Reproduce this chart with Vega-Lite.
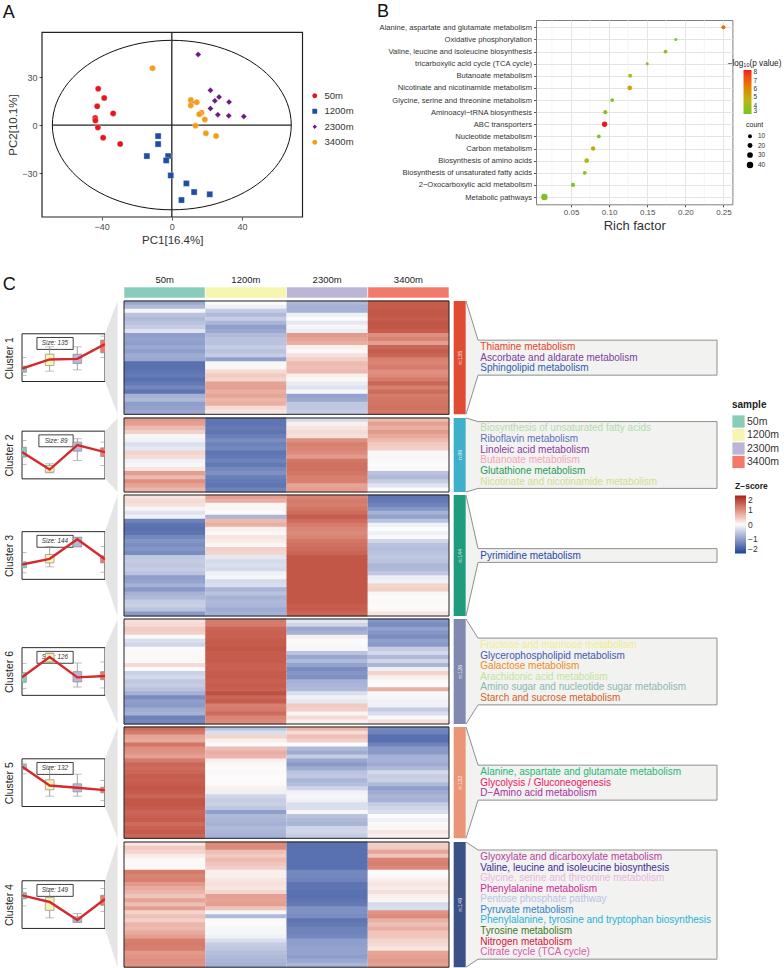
{"$schema":"https://vega.github.io/schema/vega-lite/v6.json","background":"white","padding":{"left":2,"top":2,"right":0,"bottom":0},"spacing":0,"bounds":"full",
"config":{"font":"Liberation Sans","view":{"stroke":null},"axis":{"labelColor":"#4d4d4d","titleColor":"#333333","tickColor":"#555555","titleFontWeight":"normal","grid":false},"legend":{"labelColor":"#333333","titleColor":"#222222"}},
"datasets":{
"pca":[{"s":"50m","x":-41.9,"y":22.7},{"s":"50m","x":-38.5,"y":16.9},{"s":"50m","x":-42.5,"y":11.7},{"s":"50m","x":-33.4,"y":7.3},{"s":"50m","x":-43.6,"y":4.4},{"s":"50m","x":-43.5,"y":2.9},{"s":"50m","x":-42.1,"y":-1.5},{"s":"50m","x":-39.1,"y":-7.9},{"s":"50m","x":-29.4,"y":-11.9},
{"s":"1200m","x":-7.8,"y":-6.9},{"s":"1200m","x":-7.8,"y":-11.9},{"s":"1200m","x":-14.2,"y":-19.4},{"s":"1200m","x":-2.1,"y":-19.4},{"s":"1200m","x":-3.2,"y":-22.1},{"s":"1200m","x":-0.6,"y":-31.5},{"s":"1200m","x":8.3,"y":-36.5},{"s":"1200m","x":12.7,"y":-41.9},{"s":"1200m","x":21.6,"y":-43.3},{"s":"1200m","x":5.5,"y":-46.9},
{"s":"2300m","x":15,"y":44.2},{"s":"2300m","x":22,"y":21.7},{"s":"2300m","x":26.9,"y":17.5},{"s":"2300m","x":24.5,"y":15.2},{"s":"2300m","x":32.6,"y":14.4},{"s":"2300m","x":22,"y":10.4},{"s":"2300m","x":26.2,"y":6.5},{"s":"2300m","x":32.4,"y":5.8},{"s":"2300m","x":41,"y":5.4},{"s":"2300m","x":11.2,"y":14.2},
{"s":"3400m","x":-11,"y":35.6},{"s":"3400m","x":10.8,"y":15.6},{"s":"3400m","x":10.8,"y":12.3},{"s":"3400m","x":14.2,"y":14.2},{"s":"3400m","x":16.9,"y":7.7},{"s":"3400m","x":15.6,"y":6.7},{"s":"3400m","x":18.8,"y":3.5},{"s":"3400m","x":13.5,"y":-0.4},{"s":"3400m","x":19.4,"y":-5.2},{"s":"3400m","x":25.2,"y":-6.9}],
"ellipse":[{"t":0,"x":68,"y":0},{"t":1,"x":65.7,"y":13.7},{"t":2,"x":58.9,"y":26.5},{"t":3,"x":48.1,"y":37.5},{"t":4,"x":34,"y":45.9},{"t":5,"x":17.6,"y":51.2},{"t":6,"x":0,"y":53},{"t":7,"x":-17.6,"y":51.2},{"t":8,"x":-34,"y":45.9},{"t":9,"x":-48.1,"y":37.5},{"t":10,"x":-58.9,"y":26.5},{"t":11,"x":-65.7,"y":13.7},{"t":12,"x":-68,"y":0},{"t":13,"x":-65.7,"y":-13.7},{"t":14,"x":-58.9,"y":-26.5},{"t":15,"x":-48.1,"y":-37.5},{"t":16,"x":-34,"y":-45.9},{"t":17,"x":-17.6,"y":-51.2},{"t":18,"x":0,"y":-53},{"t":19,"x":17.6,"y":-51.2},{"t":20,"x":34,"y":-45.9},{"t":21,"x":48.1,"y":-37.5},{"t":22,"x":58.9,"y":-26.5},{"t":23,"x":65.7,"y":-13.7}],
"kegg":[{"name":"Alanine, aspartate and glutamate metabolism","rf":0.25,"p":6.6,"count":12},{"name":"Oxidative phosphorylation","rf":0.1875,"p":3.1,"count":3},{"name":"Valine, leucine and isoleucine biosynthesis","rf":0.174,"p":3.5,"count":9},{"name":"tricarboxylic acid cycle (TCA cycle)","rf":0.15,"p":3.1,"count":3},{"name":"Butanoate metabolism","rf":0.1275,"p":4.5,"count":12},{"name":"Nicotinate and nicotinamide metabolism","rf":0.127,"p":5.2,"count":18},{"name":"Glycine, serine and threonine metabolism","rf":0.104,"p":3.3,"count":9},{"name":"Aminoacyl−tRNA biosynthesis","rf":0.095,"p":3.3,"count":12},{"name":"ABC transporters","rf":0.094,"p":8.3,"count":25},{"name":"Nucleotide metabolism","rf":0.0865,"p":3.2,"count":9},{"name":"Carbon metabolism","rf":0.079,"p":5.2,"count":15},{"name":"Biosynthesis of amino acids","rf":0.0705,"p":4.5,"count":18},{"name":"Biosynthesis of unsaturated fatty acids","rf":0.068,"p":3.3,"count":9},{"name":"2−Oxocarboxylic acid metabolism","rf":0.0525,"p":3.3,"count":12},{"name":"Metabolic pathways","rf":0.015,"p":3.2,"count":40}],
"mini":[{"c":1,"i":0,"s":"50m","m":-0.91,"q3":-0.71,"q1":-1.22,"hi":0.01,"lo":-1.5},{"c":1,"i":1,"s":"1200m","m":-0.15,"q3":0.29,"q1":-0.66,"hi":0.91,"lo":-1.13},{"c":1,"i":2,"s":"2300m","m":-0.1,"q3":0.29,"q1":-0.49,"hi":0.91,"lo":-1.02},{"c":1,"i":3,"s":"3400m","m":1.13,"q3":1.47,"q1":0.41,"hi":1.8,"lo":0},
{"c":2,"i":0,"s":"50m","m":0.24,"q3":0.66,"q1":-0.18,"hi":1.22,"lo":-0.8},{"c":2,"i":1,"s":"1200m","m":-1.22,"q3":-0.88,"q1":-1.44,"hi":-0.74,"lo":-1.5},{"c":2,"i":2,"s":"2300m","m":0.83,"q3":1.08,"q1":0.32,"hi":1.36,"lo":-0.46},{"c":2,"i":3,"s":"3400m","m":0.24,"q3":0.6,"q1":-0.13,"hi":1.08,"lo":-0.88},
{"c":3,"i":0,"s":"50m","m":-0.76,"q3":-0.53,"q1":-1.03,"hi":0.25,"lo":-1.45},{"c":3,"i":1,"s":"1200m","m":-0.28,"q3":0.08,"q1":-0.62,"hi":0.76,"lo":-0.95},{"c":3,"i":2,"s":"2300m","m":1.37,"q3":1.51,"q1":0.73,"hi":1.54,"lo":0.73},{"c":3,"i":3,"s":"3400m","m":-0.31,"q3":-0.03,"q1":-0.62,"hi":0.76,"lo":-1.4},
{"c":6,"i":0,"s":"50m","m":-0.49,"q3":-0.1,"q1":-0.91,"hi":0.66,"lo":-1.44},{"c":6,"i":1,"s":"1200m","m":1.22,"q3":1.5,"q1":0.8,"hi":1.55,"lo":0.71},{"c":6,"i":2,"s":"2300m","m":-0.49,"q3":-0.01,"q1":-0.88,"hi":0.71,"lo":-1.3},{"c":6,"i":3,"s":"3400m","m":-0.38,"q3":-0.01,"q1":-0.69,"hi":0.8,"lo":-1.38},
{"c":5,"i":0,"s":"50m","m":1.36,"q3":1.52,"q1":1.1,"hi":1.64,"lo":0.74},{"c":5,"i":1,"s":"1200m","m":-0.24,"q3":0.24,"q1":-0.6,"hi":1.3,"lo":-1.13},{"c":5,"i":2,"s":"2300m","m":-0.43,"q3":-0.1,"q1":-0.77,"hi":0.71,"lo":-1.13},{"c":5,"i":3,"s":"3400m","m":-0.63,"q3":-0.38,"q1":-0.85,"hi":0.18,"lo":-1.5},
{"c":4,"i":0,"s":"50m","m":0.78,"q3":1,"q1":0.48,"hi":1.34,"lo":-0.11},{"c":4,"i":1,"s":"1200m","m":0.22,"q3":0.59,"q1":-0.48,"hi":1.34,"lo":-1.12},{"c":4,"i":2,"s":"2300m","m":-1.29,"q3":-1.03,"q1":-1.48,"hi":-0.76,"lo":-1.48},{"c":4,"i":3,"s":"3400m","m":0.48,"q3":0.78,"q1":-0.06,"hi":1.34,"lo":-0.56}],
"heat":[
{"c":1,"r":0,"50m":-0.9,"1200m":0,"2300m":-0.7,"3400m":1.5},{"c":1,"r":1,"50m":-0.7,"1200m":-0.1,"2300m":-0.8,"3400m":1.5},{"c":1,"r":2,"50m":-0.05,"1200m":-0.5,"2300m":-0.8,"3400m":1.55},{"c":1,"r":3,"50m":-0.6,"1200m":-0.7,"2300m":-0.1,"3400m":1.55},{"c":1,"r":4,"50m":-0.7,"1200m":-0.5,"2300m":0,"3400m":1.5},{"c":1,"r":5,"50m":-0.6,"1200m":-0.75,"2300m":-0.2,"3400m":1.55},{"c":1,"r":6,"50m":-0.5,"1200m":-1,"2300m":-0.05,"3400m":1.55},{"c":1,"r":7,"50m":-0.25,"1200m":-0.9,"2300m":-0.15,"3400m":1.5},{"c":1,"r":8,"50m":-1,"1200m":-0.7,"2300m":0.9,"3400m":1},{"c":1,"r":9,"50m":-0.95,"1200m":-0.6,"2300m":0.8,"3400m":1.1},{"c":1,"r":10,"50m":-1,"1200m":-0.6,"2300m":0.7,"3400m":0.85},{"c":1,"r":11,"50m":-0.9,"1200m":-0.5,"2300m":0.1,"3400m":1.4},{"c":1,"r":12,"50m":-1,"1200m":-0.6,"2300m":0.03,"3400m":1.5},{"c":1,"r":13,"50m":-0.85,"1200m":-0.5,"2300m":0.25,"3400m":1.4},{"c":1,"r":14,"50m":-0.9,"1200m":-1,"2300m":0.4,"3400m":1.15},{"c":1,"r":15,"50m":-1.5,"1200m":0.05,"2300m":0.6,"3400m":1.1},{"c":1,"r":16,"50m":-1.5,"1200m":0.05,"2300m":0.55,"3400m":1.2},{"c":1,"r":17,"50m":-1.45,"1200m":0.3,"2300m":0.6,"3400m":1},{"c":1,"r":18,"50m":-1.4,"1200m":0.45,"2300m":0.1,"3400m":1.05},{"c":1,"r":19,"50m":-1.5,"1200m":0.35,"2300m":0.02,"3400m":1.2},{"c":1,"r":20,"50m":-1.4,"1200m":0.8,"2300m":-0.15,"3400m":1.4},{"c":1,"r":21,"50m":-1.25,"1200m":0.85,"2300m":-0.25,"3400m":1.15},{"c":1,"r":22,"50m":-1.45,"1200m":0.7,"2300m":-0.05,"3400m":1.35},{"c":1,"r":23,"50m":-0.8,"1200m":0.8,"2300m":-0.95,"3400m":1.2},{"c":1,"r":24,"50m":-0.7,"1200m":0.65,"2300m":-0.9,"3400m":1.25},{"c":1,"r":25,"50m":-1,"1200m":0.7,"2300m":-0.55,"3400m":1.25},{"c":1,"r":26,"50m":-0.95,"1200m":0.3,"2300m":-0.55,"3400m":1.3},{"c":1,"r":27,"50m":-0.9,"1200m":0.2,"2300m":-0.5,"3400m":1.25},
{"c":2,"r":0,"50m":0.9,"1200m":-1.45,"2300m":-0.35,"3400m":0.6},{"c":2,"r":1,"50m":0.85,"1200m":-1.45,"2300m":0.1,"3400m":0.85},{"c":2,"r":2,"50m":0.6,"1200m":-1.4,"2300m":0.2,"3400m":0.7},{"c":2,"r":3,"50m":0.4,"1200m":-1.45,"2300m":0.3,"3400m":0.9},{"c":2,"r":4,"50m":0.05,"1200m":-1.35,"2300m":0.25,"3400m":0.75},{"c":2,"r":5,"50m":-0.1,"1200m":-1.2,"2300m":1,"3400m":0.6},{"c":2,"r":6,"50m":-0.3,"1200m":-1.3,"2300m":1.15,"3400m":0.45},{"c":2,"r":7,"50m":-0.2,"1200m":-1.25,"2300m":1.1,"3400m":0.4},{"c":2,"r":8,"50m":0.35,"1200m":-1.45,"2300m":1.05,"3400m":0.05},{"c":2,"r":9,"50m":0.3,"1200m":-1.4,"2300m":0.9,"3400m":-0.05},{"c":2,"r":10,"50m":-0.1,"1200m":-1.3,"2300m":1.25,"3400m":0.02},{"c":2,"r":11,"50m":-0.05,"1200m":-1.4,"2300m":1.3,"3400m":0},{"c":2,"r":12,"50m":0.2,"1200m":-1.25,"2300m":1.3,"3400m":0.02},{"c":2,"r":13,"50m":0.85,"1200m":-1.15,"2300m":1.25,"3400m":-0.6},{"c":2,"r":14,"50m":0.6,"1200m":-1.35,"2300m":1.15,"3400m":-0.7},{"c":2,"r":15,"50m":1,"1200m":-1.4,"2300m":1.15,"3400m":-0.5},{"c":2,"r":16,"50m":0.8,"1200m":-1.45,"2300m":0.8,"3400m":-0.25},{"c":2,"r":17,"50m":0.65,"1200m":-1.3,"2300m":0.85,"3400m":0},
{"c":3,"r":0,"50m":0.2,"1200m":0.85,"2300m":1.1,"3400m":-1.45},{"c":3,"r":1,"50m":0.3,"1200m":0.7,"2300m":1.2,"3400m":-1.4},{"c":3,"r":2,"50m":0.25,"1200m":0.05,"2300m":1.15,"3400m":-1.3},{"c":3,"r":3,"50m":-0.05,"1200m":0.05,"2300m":1.25,"3400m":-1.1},{"c":3,"r":4,"50m":-0.25,"1200m":0,"2300m":1.35,"3400m":-0.8},{"c":3,"r":5,"50m":-0.1,"1200m":-0.75,"2300m":1.5,"3400m":-0.95},{"c":3,"r":6,"50m":-1.3,"1200m":0.6,"2300m":1.35,"3400m":-0.6},{"c":3,"r":7,"50m":-1.45,"1200m":0.7,"2300m":1.2,"3400m":-0.1},{"c":3,"r":8,"50m":-1.5,"1200m":0.1,"2300m":1.1,"3400m":0},{"c":3,"r":9,"50m":-1.45,"1200m":0.05,"2300m":1.05,"3400m":-0.1},{"c":3,"r":10,"50m":-1.25,"1200m":0.2,"2300m":1.1,"3400m":-0.02},{"c":3,"r":11,"50m":-1.1,"1200m":0.15,"2300m":1.25,"3400m":-0.4},{"c":3,"r":12,"50m":-1.2,"1200m":0.05,"2300m":1.3,"3400m":-0.6},{"c":3,"r":13,"50m":-1.1,"1200m":0.4,"2300m":1.35,"3400m":-0.65},{"c":3,"r":14,"50m":-1.2,"1200m":0.35,"2300m":1.4,"3400m":-0.6},{"c":3,"r":15,"50m":-0.55,"1200m":-0.2,"2300m":1.55,"3400m":-0.55},{"c":3,"r":16,"50m":-0.5,"1200m":-0.35,"2300m":1.55,"3400m":-0.6},{"c":3,"r":17,"50m":-0.55,"1200m":-0.3,"2300m":1.55,"3400m":-0.75},{"c":3,"r":18,"50m":-0.5,"1200m":-0.35,"2300m":1.55,"3400m":-0.7},{"c":3,"r":19,"50m":-0.6,"1200m":-0.1,"2300m":1.55,"3400m":-0.55},{"c":3,"r":20,"50m":-1,"1200m":-0.05,"2300m":1.55,"3400m":-0.15},{"c":3,"r":21,"50m":-0.95,"1200m":-0.35,"2300m":1.55,"3400m":-0.1},{"c":3,"r":22,"50m":-0.8,"1200m":-0.3,"2300m":1.55,"3400m":0.35},{"c":3,"r":23,"50m":-1.05,"1200m":-0.75,"2300m":1.55,"3400m":0.4},{"c":3,"r":24,"50m":-0.8,"1200m":-0.6,"2300m":1.55,"3400m":0.05},{"c":3,"r":25,"50m":-0.7,"1200m":-0.8,"2300m":1.55,"3400m":0},{"c":3,"r":26,"50m":-0.5,"1200m":-0.7,"2300m":1.55,"3400m":0.02},{"c":3,"r":27,"50m":-0.45,"1200m":-0.75,"2300m":1.5,"3400m":0},{"c":3,"r":28,"50m":-0.6,"1200m":-0.85,"2300m":1.5,"3400m":0.02},{"c":3,"r":29,"50m":-1.05,"1200m":-0.8,"2300m":1.4,"3400m":0.2},
{"c":6,"r":0,"50m":0.25,"1200m":1.2,"2300m":-0.2,"3400m":-1.1},{"c":6,"r":1,"50m":0.3,"1200m":1.2,"2300m":-0.4,"3400m":-1.2},{"c":6,"r":2,"50m":0.45,"1200m":1.4,"2300m":-0.9,"3400m":-0.95},{"c":6,"r":3,"50m":0.4,"1200m":1.45,"2300m":-0.8,"3400m":-1.1},{"c":6,"r":4,"50m":-0.02,"1200m":1.45,"2300m":0.1,"3400m":-1.2},{"c":6,"r":5,"50m":-0.3,"1200m":1.5,"2300m":0,"3400m":-1},{"c":6,"r":6,"50m":-0.4,"1200m":1.5,"2300m":-0.02,"3400m":-1.05},{"c":6,"r":7,"50m":0,"1200m":1.55,"2300m":-0.05,"3400m":-0.5},{"c":6,"r":8,"50m":0.02,"1200m":1.5,"2300m":-0.6,"3400m":-0.35},{"c":6,"r":9,"50m":0.02,"1200m":1.5,"2300m":-0.9,"3400m":-0.7},{"c":6,"r":10,"50m":0.02,"1200m":1.5,"2300m":-0.7,"3400m":-0.4},{"c":6,"r":11,"50m":0.3,"1200m":1.45,"2300m":-0.95,"3400m":-0.75},{"c":6,"r":12,"50m":0,"1200m":1.45,"2300m":-1.2,"3400m":-0.1},{"c":6,"r":13,"50m":-0.45,"1200m":1.5,"2300m":-1.1,"3400m":0.35},{"c":6,"r":14,"50m":-0.35,"1200m":1.5,"2300m":-1.15,"3400m":0.1},{"c":6,"r":15,"50m":-0.55,"1200m":1.45,"2300m":-0.8,"3400m":0.02},{"c":6,"r":16,"50m":-0.5,"1200m":1.5,"2300m":-0.75,"3400m":0},{"c":6,"r":17,"50m":-0.6,"1200m":1.45,"2300m":-0.7,"3400m":0.7},{"c":6,"r":18,"50m":-0.8,"1200m":1.6,"2300m":-0.3,"3400m":-0.02},{"c":6,"r":19,"50m":-1.2,"1200m":1.4,"2300m":-0.1,"3400m":-0.05},{"c":6,"r":20,"50m":-1,"1200m":1.5,"2300m":-0.2,"3400m":-0.1},{"c":6,"r":21,"50m":-1.05,"1200m":1.15,"2300m":0.45,"3400m":-0.1},{"c":6,"r":22,"50m":-0.85,"1200m":1.2,"2300m":0.4,"3400m":-0.5},{"c":6,"r":23,"50m":-0.8,"1200m":1.35,"2300m":0.05,"3400m":-0.3},{"c":6,"r":24,"50m":-1.3,"1200m":1.1,"2300m":0.3,"3400m":-0.02},{"c":6,"r":25,"50m":-1.25,"1200m":1.05,"2300m":0.1,"3400m":0.25},
{"c":5,"r":0,"50m":1.35,"1200m":-0.6,"2300m":0.65,"3400m":-1.25},{"c":5,"r":1,"50m":1.2,"1200m":-0.3,"2300m":0.3,"3400m":-1.3},{"c":5,"r":2,"50m":0.8,"1200m":0.35,"2300m":0.55,"3400m":-1.5},{"c":5,"r":3,"50m":0.75,"1200m":0.1,"2300m":0.4,"3400m":-1.5},{"c":5,"r":4,"50m":1.25,"1200m":0,"2300m":0,"3400m":-1.3},{"c":5,"r":5,"50m":1,"1200m":0.55,"2300m":-0.7,"3400m":-1.05},{"c":5,"r":6,"50m":0.95,"1200m":0.7,"2300m":-0.85,"3400m":-1.05},{"c":5,"r":7,"50m":0.85,"1200m":0.65,"2300m":-0.5,"3400m":-0.8},{"c":5,"r":8,"50m":1.2,"1200m":0.1,"2300m":-0.9,"3400m":-0.8},{"c":5,"r":9,"50m":1.4,"1200m":0.02,"2300m":-1.05,"3400m":-0.85},{"c":5,"r":10,"50m":1.35,"1200m":0,"2300m":-0.85,"3400m":-0.7},{"c":5,"r":11,"50m":1.4,"1200m":0.03,"2300m":-0.6,"3400m":-0.35},{"c":5,"r":12,"50m":1.5,"1200m":0,"2300m":-0.55,"3400m":-0.5},{"c":5,"r":13,"50m":1.45,"1200m":0,"2300m":-0.75,"3400m":-0.45},{"c":5,"r":14,"50m":1.5,"1200m":0.02,"2300m":-0.65,"3400m":-0.7},{"c":5,"r":15,"50m":1.55,"1200m":0.1,"2300m":-0.4,"3400m":-1},{"c":5,"r":16,"50m":1.5,"1200m":-0.1,"2300m":-0.1,"3400m":-0.85},{"c":5,"r":17,"50m":1.4,"1200m":-0.4,"2300m":-0.05,"3400m":-0.75},{"c":5,"r":18,"50m":1.55,"1200m":-0.5,"2300m":-0.1,"3400m":-0.8},{"c":5,"r":19,"50m":1.55,"1200m":-0.45,"2300m":-0.3,"3400m":-0.5},{"c":5,"r":20,"50m":1.5,"1200m":-0.55,"2300m":-0.3,"3400m":-0.4},{"c":5,"r":21,"50m":1.4,"1200m":-1,"2300m":0.05,"3400m":-0.3},{"c":5,"r":22,"50m":1.45,"1200m":-0.7,"2300m":-0.6,"3400m":0},{"c":5,"r":23,"50m":1.5,"1200m":-0.75,"2300m":-0.7,"3400m":-0.1},{"c":5,"r":24,"50m":1.35,"1200m":-0.8,"2300m":-0.75,"3400m":0.02},{"c":5,"r":25,"50m":1.45,"1200m":-0.7,"2300m":-0.4,"3400m":0.05},{"c":5,"r":26,"50m":1.5,"1200m":-0.75,"2300m":-0.4,"3400m":0.2},{"c":5,"r":27,"50m":1.4,"1200m":-0.8,"2300m":-0.5,"3400m":0.1},
{"c":4,"r":0,"50m":0.2,"1200m":1.05,"2300m":-1.5,"3400m":0.4},{"c":4,"r":1,"50m":0.45,"1200m":1.05,"2300m":-1.5,"3400m":0.45},{"c":4,"r":2,"50m":0.35,"1200m":0.55,"2300m":-1.5,"3400m":0.8},{"c":4,"r":3,"50m":0.15,"1200m":0.45,"2300m":-1.5,"3400m":0.5},{"c":4,"r":4,"50m":0.02,"1200m":0.6,"2300m":-1.5,"3400m":1.1},{"c":4,"r":5,"50m":0.03,"1200m":0.5,"2300m":-1.5,"3400m":1.15},{"c":4,"r":6,"50m":0.02,"1200m":0.4,"2300m":-1.5,"3400m":1.05},{"c":4,"r":7,"50m":1.2,"1200m":0.1,"2300m":-1.25,"3400m":0},{"c":4,"r":8,"50m":1.1,"1200m":0.1,"2300m":-1.25,"3400m":0.02},{"c":4,"r":9,"50m":1.15,"1200m":0.2,"2300m":-1.3,"3400m":0.1},{"c":4,"r":10,"50m":0.9,"1200m":0.25,"2300m":-1.45,"3400m":0.2},{"c":4,"r":11,"50m":0.75,"1200m":0.2,"2300m":-1.45,"3400m":0.15},{"c":4,"r":12,"50m":0.65,"1200m":0.35,"2300m":-1.5,"3400m":0.25},{"c":4,"r":13,"50m":0.5,"1200m":0.85,"2300m":-1.5,"3400m":0.1},{"c":4,"r":14,"50m":0.8,"1200m":0.8,"2300m":-1.45,"3400m":0.05},{"c":4,"r":15,"50m":0.55,"1200m":0.85,"2300m":-1.4,"3400m":-0.35},{"c":4,"r":16,"50m":0.85,"1200m":0.5,"2300m":-1.15,"3400m":-0.3},{"c":4,"r":17,"50m":0.35,"1200m":-0.05,"2300m":-1.15,"3400m":0.95},{"c":4,"r":18,"50m":0.55,"1200m":-0.7,"2300m":-1.2,"3400m":1.05},{"c":4,"r":19,"50m":0.4,"1200m":0.02,"2300m":-1.45,"3400m":0.7},{"c":4,"r":20,"50m":0.65,"1200m":0,"2300m":-1.4,"3400m":0.55},{"c":4,"r":21,"50m":0.6,"1200m":-0.05,"2300m":-1.3,"3400m":0.7},{"c":4,"r":22,"50m":0.75,"1200m":-0.05,"2300m":-1.3,"3400m":0.5},{"c":4,"r":23,"50m":0.85,"1200m":-0.1,"2300m":-1.25,"3400m":0.5},{"c":4,"r":24,"50m":1.15,"1200m":-0.3,"2300m":-1,"3400m":0.35},{"c":4,"r":25,"50m":1.2,"1200m":-0.5,"2300m":-1,"3400m":0.3},{"c":4,"r":26,"50m":1.15,"1200m":-0.55,"2300m":-0.95,"3400m":0.2},{"c":4,"r":27,"50m":0.9,"1200m":-0.65,"2300m":-0.95,"3400m":0.8},{"c":4,"r":28,"50m":0.95,"1200m":-0.7,"2300m":-1,"3400m":0.85},{"c":4,"r":29,"50m":1,"1200m":-0.75,"2300m":-0.9,"3400m":0.9},{"c":4,"r":30,"50m":0.95,"1200m":-0.8,"2300m":-0.75,"3400m":0.85}]
},
"vconcat":[
{"hconcat":[
{"width":19.2,"height":254,"title":{"text":"A","anchor":"start","frame":"group","fontSize":18,"fontWeight":"normal","color":"#111111","dx":-19.3,"offset":-2},"data":{"values":[]},"mark":"point"},
{"width":260.5,"height":197,"layer":[
{"data":{"name":"ellipse"},"mark":{"type":"line","color":"#111111","strokeWidth":1,"interpolate":"cardinal-closed"},"encoding":{"x":{"field":"x","type":"quantitative","scale":{"domain":[-73.9,74.4],"nice":false,"zero":false},"axis":{"values":[-40,0,40],"title":"PC1[16.4%]","titleFontSize":11.5,"labelFontSize":9,"tickSize":3,"domain":false,"titlePadding":3}},"y":{"field":"y","type":"quantitative","scale":{"domain":[-57.5,65.7],"nice":false,"zero":false},"axis":{"values":[-30,0,30],"title":"PC2[10.1%]","titleFontSize":11.5,"labelFontSize":9,"tickSize":3,"domain":false,"titlePadding":3,"titleY":104.5}},"order":{"field":"t","type":"quantitative"}}},
{"data":{"values":[{}]},"mark":{"type":"rule","color":"#222222","strokeWidth":1.3},"encoding":{"x":{"datum":0,"type":"quantitative"},"y":{"datum":-57.5,"type":"quantitative"},"y2":{"datum":58}}},
{"data":{"values":[{}]},"mark":{"type":"rule","color":"#222222","strokeWidth":1.3},"encoding":{"y":{"datum":0,"type":"quantitative"},"x":{"datum":-68,"type":"quantitative"},"x2":{"datum":68}}},
{"data":{"values":[{}]},"mark":{"type":"rect","fill":null,"stroke":"#222222","strokeWidth":1.2},"encoding":{"x":{"datum":-73.9,"type":"quantitative"},"x2":{"datum":74.4},"y":{"datum":-57.5,"type":"quantitative"},"y2":{"datum":58}}},
{"data":{"name":"pca"},"mark":{"type":"point","filled":true,"size":36,"opacity":1,"stroke":"#ffffff","strokeWidth":0.3},"encoding":{"x":{"field":"x","type":"quantitative"},"y":{"field":"y","type":"quantitative"},"color":{"field":"s","type":"nominal","scale":{"domain":["50m","1200m","2300m","3400m"],"range":["#e8141c","#1f4ea1","#6d1a80","#f59c1a"]},"legend":{"orient":"none","legendX":268,"legendY":71,"title":null,"labelFontSize":9.5,"symbolSize":40,"rowPadding":2.5,"labelOffset":5}},"shape":{"field":"s","type":"nominal","scale":{"domain":["50m","1200m","2300m","3400m"],"range":["circle","square","diamond","circle"]},"legend":{"orient":"none","legendX":268,"legendY":71,"title":null,"labelFontSize":9.5,"symbolSize":40,"rowPadding":2.5,"labelOffset":5}}}}
]},
{"width":232.3,"height":10,"data":{"values":[]},"mark":"point"},
{"width":196.4,"height":184.3,"view":{"stroke":"#7f7f7f","strokeWidth":1},"title":{"text":"B","anchor":"start","frame":"group","fontSize":18,"fontWeight":"normal","color":"#111111","dx":-159,"offset":-1.5},
"layer":[
{"data":{"values":[{"rf":0.025},{"rf":0.075},{"rf":0.125},{"rf":0.175},{"rf":0.225}]},"mark":{"type":"rule","color":"#f1f1f1","strokeWidth":0.7},"encoding":{"x":{"field":"rf","type":"quantitative","scale":{"domain":[0.004,0.2618],"nice":false,"zero":false},"axis":{"values":[0.05,0.1,0.15,0.2,0.25],"format":".2f","title":"Rich factor","titleFontSize":13,"labelFontSize":8,"tickSize":2.5,"grid":true,"gridColor":"#e4e4e4","domain":false,"titlePadding":3}}}},
{"data":{"name":"kegg"},"mark":{"type":"point","filled":true,"opacity":1},"encoding":{"x":{"field":"rf","type":"quantitative"},"y":{"field":"name","type":"nominal","scale":{"domain":["Alanine, aspartate and glutamate metabolism","Oxidative phosphorylation","Valine, leucine and isoleucine biosynthesis","tricarboxylic acid cycle (TCA cycle)","Butanoate metabolism","Nicotinate and nicotinamide metabolism","Glycine, serine and threonine metabolism","Aminoacyl−tRNA biosynthesis","ABC transporters","Nucleotide metabolism","Carbon metabolism","Biosynthesis of amino acids","Biosynthesis of unsaturated fatty acids","2−Oxocarboxylic acid metabolism","Metabolic pathways"],"padding":0.6},"axis":{"title":null,"labelFontSize":7.6,"labelLimit":300,"tickSize":2.5,"grid":true,"gridColor":"#e4e4e4","domain":false,"labelColor":"#333333"}},"color":{"field":"p","type":"quantitative","scale":{"domain":[3,4.5,5.2,7,8.3],"range":["#79c02b","#b3b913","#c9a60f","#ef5d10","#f2161c"]},"legend":{"orient":"none","legendX":207.5,"legendY":50,"title":null,"values":[3,4,5,6,7,8],"gradientLength":44,"gradientThickness":8,"labelFontSize":6.5,"labelOverlap":false,"gradientStrokeWidth":0}},"size":{"field":"count","type":"quantitative","scale":{"domain":[3,45],"range":[9,46]},"legend":null}}},
{"data":{"values":[{"t":"−log₁₀(p value)"}]},"mark":{"type":"text","align":"left","fontSize":8.2,"color":"#222222"},"encoding":{"x":{"datum":0.2556,"type":"quantitative"},"y":{"datum":"tricarboxylic acid cycle (TCA cycle)","type":"nominal"},"text":{"field":"t"}}}
]},
{"width":1,"height":10,"data":{"name":"kegg"},"mark":{"type":"point","filled":true,"opacity":0,"color":"black"},"encoding":{"size":{"field":"count","type":"quantitative","scale":{"domain":[3,45],"range":[9,46]},"legend":{"orient":"none","legendX":13,"legendY":101,"title":"count","titleFontSize":7,"titleFontWeight":"normal","values":[10,20,30,40],"labelFontSize":6.5,"symbolFillColor":"black","symbolStrokeColor":"black","symbolOpacity":1,"rowPadding":-3}}}}
],"spacing":0,"bounds":"flush","resolve":{"scale":{"color":"independent","shape":"independent","size":"independent"}}},
{"columns":5,"spacing":{"row":3,"column":0},"bounds":"flush","align":"each","concat":[
{"width":83,"height":11,"title":{"text":"C","anchor":"start","frame":"group","fontSize":18,"fontWeight":"normal","color":"#111111","dx":-19.3,"dy":7,"offset":0},"data":{"values":[]},"mark":"point"},
{"width":19,"height":11,"data":{"values":[]},"mark":"point"},
{"width":325,"height":11,"data":{"values":[{"s":"50m"},{"s":"1200m"},{"s":"2300m"},{"s":"3400m"}]},"mark":{"type":"rect","stroke":"white","strokeWidth":0.6},"encoding":{"x":{"field":"s","type":"nominal","scale":{"domain":["50m","1200m","2300m","3400m"],"paddingInner":0,"paddingOuter":0,"round":false},"axis":{"orient":"top","title":null,"ticks":false,"domain":false,"labelAngle":0,"labelFontSize":9.5,"labelPadding":3,"labelColor":"#222222"}},"color":{"field":"s","type":"nominal","scale":{"domain":["50m","1200m","2300m","3400m"],"range":["#88ccbc","#f7f6b0","#bcb6d6","#f27a6b"]},"legend":{"orient":"none","legendX":608,"legendY":113,"title":"sample","titleFontSize":10,"titleFontWeight":"bold","labelFontSize":10.5,"symbolType":"square","symbolSize":150,"symbolStrokeWidth":0,"rowPadding":0.5,"labelOffset":2}}}},
{"width":16.7,"height":11,"data":{"values":[]},"mark":"point"},
{"width":251,"height":11,"data":{"values":[]},"mark":"point"},

{"width":83,"height":113.3,"layer":[
{"data":{"values":[{}]},"mark":{"type":"rect","fill":"white","stroke":"#111111","strokeWidth":0.9},"encoding":{"x":{"datum":0,"type":"quantitative","scale":{"domain":[0,3],"nice":false,"zero":false,"padding":0},"axis":null},"x2":{"datum":3},"y":{"datum":-2,"type":"quantitative","scale":{"domain":[-2,2],"range":[80.5,32.8],"nice":false,"zero":false},"axis":{"title":"Cluster 1","labels":false,"ticks":false,"domain":false,"titleFontSize":10.5,"titlePadding":8,"titleColor":"#222222"}},"y2":{"datum":2}}},
{"data":{"values":[{}]},"mark":{"type":"rect","fill":"white","stroke":"#111111","strokeWidth":0.8},"encoding":{"x":{"datum":0.54,"type":"quantitative","axis":null},"x2":{"datum":1.85},"y":{"datum":0.69,"type":"quantitative"},"y2":{"datum":1.69}}},
{"data":{"values":[{"t":"Size: 135"}]},"mark":{"type":"text","fontSize":6.3,"fontStyle":"italic","color":"#333333"},"encoding":{"x":{"datum":1.19,"type":"quantitative","axis":null},"y":{"datum":1.19,"type":"quantitative"},"text":{"field":"t"}}},
{"data":{"name":"mini"},"transform":[{"filter":"datum.c==1"}],"encoding":{"x":{"field":"i","type":"quantitative","axis":null},"y":{"field":"m","type":"quantitative"}},"layer":[
{"mark":{"type":"rule","color":"#8a8a8a","strokeWidth":0.8,"clip":true},"encoding":{"y":{"field":"lo","type":"quantitative"},"y2":{"field":"hi"}}},
{"mark":{"type":"tick","orient":"horizontal","color":"#8a8a8a","size":9,"thickness":0.8,"clip":true},"encoding":{"y":{"field":"lo","type":"quantitative"}}},
{"mark":{"type":"tick","orient":"horizontal","color":"#8a8a8a","size":9,"thickness":0.8,"clip":true},"encoding":{"y":{"field":"hi","type":"quantitative"}}},
{"mark":{"type":"bar","size":8.7,"stroke":"#8a8a8a","strokeWidth":0.7,"clip":true},"encoding":{"y":{"field":"q1","type":"quantitative"},"y2":{"field":"q3"},"color":{"field":"s","type":"nominal","scale":{"domain":["50m","1200m","2300m","3400m"],"range":["#88ccbc","#f7f6b0","#bcb6d6","#f27a6b"]},"legend":null}}},
{"mark":{"type":"line","color":"#d42a2e","strokeWidth":2.4,"clip":true}}
]}]},
{"width":19,"height":113.3,"data":{"values":[{"t":0,"lo":0.29,"hi":0.71},{"t":0.66,"lo":0,"hi":1}]},"mark":{"type":"area","color":"#e5e5e5"},"encoding":{"x":{"field":"t","type":"quantitative","scale":{"domain":[0,1],"nice":false},"axis":null},"y":{"field":"lo","type":"quantitative","scale":{"domain":[0,1],"reverse":true,"nice":false},"axis":null},"y2":{"field":"hi"}}},
{"width":325,"height":113.3,"layer":[{"data":{"name":"heat"},"transform":[{"filter":"datum.c==1"},{"fold":["50m","1200m","2300m","3400m"],"as":["s","z"]}],"mark":{"type":"rect","height":{"band":1.2}},"encoding":{"x":{"field":"s","type":"nominal","scale":{"domain":["50m","1200m","2300m","3400m"],"paddingInner":0,"paddingOuter":0,"round":false},"axis":null},"y":{"field":"r","type":"ordinal","scale":{"paddingInner":0,"paddingOuter":0,"round":false},"axis":null},"color":{"field":"z","type":"quantitative","scale":{"domain":[-2,-1,0,1,2],"range":["#1a4594","#8f9fcb","#fbfbfb","#de8f80","#a81e1e"]},"legend":{"orient":"none","legendX":611,"legendY":181,"title":"Z−score","titleFontSize":8.5,"titleFontWeight":"bold","values":[-2,-1,0,1,2],"gradientLength":58,"gradientThickness":11,"labelFontSize":8.5,"gradientStrokeWidth":0}}}},{"data":{"values":[{}]},"mark":{"type":"rect","fill":null,"stroke":"#222222","strokeWidth":1},"encoding":{}}]},
{"width":16.7,"height":113.3,"data":{"values":[{"t":"n:135"}]},"encoding":{"x":{"datum":0.64,"type":"quantitative","scale":{"domain":[0,1],"nice":false},"axis":null}},"layer":[{"mark":{"type":"rect","color":"#e04b33"},"encoding":{"x":{"datum":0.28,"type":"quantitative"},"x2":{"datum":1}}},{"mark":{"type":"text","angle":270,"fontSize":5.5,"color":"#ffffff","opacity":0.85},"encoding":{"text":{"field":"t"}}}]},
{"width":251,"height":113.3,"layer":[{"encoding":{"x":{"field":"x","type":"quantitative","scale":{"domain":[0,1],"nice":false},"axis":null},"y":{"field":"y","type":"quantitative","scale":{"domain":[-4.344,6.344],"reverse":true,"nice":false,"zero":false},"axis":null}},"layer":[
{"data":{"values":[{"x":0,"y":-4.344,"y2":6.344},{"x":0.048,"y":-0.65,"y2":2.65},{"x":1,"y":-0.65,"y2":2.65}]},"mark":{"type":"area","color":"#f2f2f0"},"encoding":{"y2":{"field":"y2"}}},
{"data":{"values":[{"o":0,"x":0,"y":-4.344},{"o":1,"x":0.048,"y":-0.65},{"o":2,"x":1,"y":-0.65},{"o":3,"x":1,"y":2.65},{"o":4,"x":0.048,"y":2.65},{"o":5,"x":0,"y":6.344}]},"mark":{"type":"line","color":"#8f8f8f","strokeWidth":1},"encoding":{"order":{"field":"o","type":"quantitative"}}}]},
{"data":{"values":[{"y":0,"name":"Thiamine metabolism"},{"y":1,"name":"Ascorbate and aldarate metabolism"},{"y":2,"name":"Sphingolipid metabolism"}]},"mark":{"type":"text","align":"left","fontSize":10},"encoding":{"x":{"datum":0.057,"type":"quantitative","axis":null},"y":{"field":"y","type":"quantitative","axis":null},"text":{"field":"name"},"color":{"field":"name","type":"nominal","scale":{"domain":["Thiamine metabolism","Ascorbate and aldarate metabolism","Sphingolipid metabolism"],"range":["#e6432a","#7b3fa0","#2e5db0"]},"legend":null}}}
]},

{"width":83,"height":74,"layer":[
{"data":{"values":[{}]},"mark":{"type":"rect","fill":"white","stroke":"#111111","strokeWidth":0.9},"encoding":{"x":{"datum":0,"type":"quantitative","scale":{"domain":[0,3],"nice":false,"zero":false,"padding":0},"axis":null},"x2":{"datum":3},"y":{"datum":-2,"type":"quantitative","scale":{"domain":[-2,2],"range":[60.85,13.15],"nice":false,"zero":false},"axis":{"title":"Cluster 2","labels":false,"ticks":false,"domain":false,"titleFontSize":10.5,"titlePadding":8,"titleColor":"#222222"}},"y2":{"datum":2}}},
{"data":{"values":[{}]},"mark":{"type":"rect","fill":"white","stroke":"#111111","strokeWidth":0.8},"encoding":{"x":{"datum":0.61,"type":"quantitative","axis":null},"x2":{"datum":1.85},"y":{"datum":0.69,"type":"quantitative"},"y2":{"datum":1.69}}},
{"data":{"values":[{"t":"Size: 89"}]},"mark":{"type":"text","fontSize":6.3,"fontStyle":"italic","color":"#333333"},"encoding":{"x":{"datum":1.23,"type":"quantitative","axis":null},"y":{"datum":1.19,"type":"quantitative"},"text":{"field":"t"}}},
{"data":{"name":"mini"},"transform":[{"filter":"datum.c==2"}],"encoding":{"x":{"field":"i","type":"quantitative","axis":null},"y":{"field":"m","type":"quantitative"}},"layer":[
{"mark":{"type":"rule","color":"#8a8a8a","strokeWidth":0.8,"clip":true},"encoding":{"y":{"field":"lo","type":"quantitative"},"y2":{"field":"hi"}}},
{"mark":{"type":"tick","orient":"horizontal","color":"#8a8a8a","size":9,"thickness":0.8,"clip":true},"encoding":{"y":{"field":"lo","type":"quantitative"}}},
{"mark":{"type":"tick","orient":"horizontal","color":"#8a8a8a","size":9,"thickness":0.8,"clip":true},"encoding":{"y":{"field":"hi","type":"quantitative"}}},
{"mark":{"type":"bar","size":8.7,"stroke":"#8a8a8a","strokeWidth":0.7,"clip":true},"encoding":{"y":{"field":"q1","type":"quantitative"},"y2":{"field":"q3"},"color":{"field":"s","type":"nominal","scale":{"domain":["50m","1200m","2300m","3400m"],"range":["#88ccbc","#f7f6b0","#bcb6d6","#f27a6b"]},"legend":null}}},
{"mark":{"type":"line","color":"#d42a2e","strokeWidth":2.4,"clip":true}}
]}]},
{"width":19,"height":74,"data":{"values":[{"t":0,"lo":0.178,"hi":0.822},{"t":0.66,"lo":0,"hi":1}]},"mark":{"type":"area","color":"#e5e5e5"},"encoding":{"x":{"field":"t","type":"quantitative","scale":{"domain":[0,1],"nice":false},"axis":null},"y":{"field":"lo","type":"quantitative","scale":{"domain":[0,1],"reverse":true,"nice":false},"axis":null},"y2":{"field":"hi"}}},
{"width":325,"height":74,"layer":[{"data":{"name":"heat"},"transform":[{"filter":"datum.c==2"},{"fold":["50m","1200m","2300m","3400m"],"as":["s","z"]}],"mark":{"type":"rect","height":{"band":1.2}},"encoding":{"x":{"field":"s","type":"nominal","scale":{"domain":["50m","1200m","2300m","3400m"],"paddingInner":0,"paddingOuter":0,"round":false},"axis":null},"y":{"field":"r","type":"ordinal","scale":{"paddingInner":0,"paddingOuter":0,"round":false},"axis":null},"color":{"field":"z","type":"quantitative","scale":{"domain":[-2,-1,0,1,2],"range":["#1a4594","#8f9fcb","#fbfbfb","#de8f80","#a81e1e"]},"legend":null}}},{"data":{"values":[{}]},"mark":{"type":"rect","fill":null,"stroke":"#222222","strokeWidth":1},"encoding":{}}]},
{"width":16.7,"height":74,"data":{"values":[{"t":"n:89"}]},"encoding":{"x":{"datum":0.64,"type":"quantitative","scale":{"domain":[0,1],"nice":false},"axis":null}},"layer":[{"mark":{"type":"rect","color":"#3fb0c9"},"encoding":{"x":{"datum":0.28,"type":"quantitative"},"x2":{"datum":1}}},{"mark":{"type":"text","angle":270,"fontSize":5.5,"color":"#ffffff","opacity":0.85},"encoding":{"text":{"field":"t"}}}]},
{"width":251,"height":74,"layer":[{"encoding":{"x":{"field":"x","type":"quantitative","scale":{"domain":[0,1],"nice":false},"axis":null},"y":{"field":"y","type":"quantitative","scale":{"domain":[-0.99,5.99],"reverse":true,"nice":false,"zero":false},"axis":null}},"layer":[
{"data":{"values":[{"x":0,"y":-0.99,"y2":5.99},{"x":0.048,"y":-0.65,"y2":5.65},{"x":1,"y":-0.65,"y2":5.65}]},"mark":{"type":"area","color":"#f2f2f0"},"encoding":{"y2":{"field":"y2"}}},
{"data":{"values":[{"o":0,"x":0,"y":-0.99},{"o":1,"x":0.048,"y":-0.65},{"o":2,"x":1,"y":-0.65},{"o":3,"x":1,"y":5.65},{"o":4,"x":0.048,"y":5.65},{"o":5,"x":0,"y":5.99}]},"mark":{"type":"line","color":"#8f8f8f","strokeWidth":1},"encoding":{"order":{"field":"o","type":"quantitative"}}}]},
{"data":{"values":[{"y":0,"name":"Biosynthesis of unsaturated fatty acids"},{"y":1,"name":"Riboflavin metabolism"},{"y":2,"name":"Linoleic acid metabolism"},{"y":3,"name":"Butanoate metabolism"},{"y":4,"name":"Glutathione metabolism"},{"y":5,"name":"Nicotinate and nicotinamide metabolism"}]},"mark":{"type":"text","align":"left","fontSize":10},"encoding":{"x":{"datum":0.057,"type":"quantitative","axis":null},"y":{"field":"y","type":"quantitative","axis":null},"text":{"field":"name"},"color":{"field":"name","type":"nominal","scale":{"domain":["Biosynthesis of unsaturated fatty acids","Riboflavin metabolism","Linoleic acid metabolism","Butanoate metabolism","Glutathione metabolism","Nicotinate and nicotinamide metabolism"],"range":["#b3dcae","#5b71b8","#8a3ba0","#f3a6b9","#1f9a5a","#cfe08e"]},"legend":null}}}
]},

{"width":83,"height":121,"layer":[
{"data":{"values":[{}]},"mark":{"type":"rect","fill":"white","stroke":"#111111","strokeWidth":0.9},"encoding":{"x":{"datum":0,"type":"quantitative","scale":{"domain":[0,3],"nice":false,"zero":false,"padding":0},"axis":null},"x2":{"datum":3},"y":{"datum":-2,"type":"quantitative","scale":{"domain":[-2,2],"range":[84.35,36.65],"nice":false,"zero":false},"axis":{"title":"Cluster 3","labels":false,"ticks":false,"domain":false,"titleFontSize":10.5,"titlePadding":8,"titleColor":"#222222"}},"y2":{"datum":2}}},
{"data":{"values":[{}]},"mark":{"type":"rect","fill":"white","stroke":"#111111","strokeWidth":0.8},"encoding":{"x":{"datum":0.54,"type":"quantitative","axis":null},"x2":{"datum":1.85},"y":{"datum":0.69,"type":"quantitative"},"y2":{"datum":1.69}}},
{"data":{"values":[{"t":"Size: 144"}]},"mark":{"type":"text","fontSize":6.3,"fontStyle":"italic","color":"#333333"},"encoding":{"x":{"datum":1.19,"type":"quantitative","axis":null},"y":{"datum":1.19,"type":"quantitative"},"text":{"field":"t"}}},
{"data":{"name":"mini"},"transform":[{"filter":"datum.c==3"}],"encoding":{"x":{"field":"i","type":"quantitative","axis":null},"y":{"field":"m","type":"quantitative"}},"layer":[
{"mark":{"type":"rule","color":"#8a8a8a","strokeWidth":0.8,"clip":true},"encoding":{"y":{"field":"lo","type":"quantitative"},"y2":{"field":"hi"}}},
{"mark":{"type":"tick","orient":"horizontal","color":"#8a8a8a","size":9,"thickness":0.8,"clip":true},"encoding":{"y":{"field":"lo","type":"quantitative"}}},
{"mark":{"type":"tick","orient":"horizontal","color":"#8a8a8a","size":9,"thickness":0.8,"clip":true},"encoding":{"y":{"field":"hi","type":"quantitative"}}},
{"mark":{"type":"bar","size":8.7,"stroke":"#8a8a8a","strokeWidth":0.7,"clip":true},"encoding":{"y":{"field":"q1","type":"quantitative"},"y2":{"field":"q3"},"color":{"field":"s","type":"nominal","scale":{"domain":["50m","1200m","2300m","3400m"],"range":["#88ccbc","#f7f6b0","#bcb6d6","#f27a6b"]},"legend":null}}},
{"mark":{"type":"line","color":"#d42a2e","strokeWidth":2.4,"clip":true}}
]}]},
{"width":19,"height":121,"data":{"values":[{"t":0,"lo":0.303,"hi":0.697},{"t":0.66,"lo":0,"hi":1}]},"mark":{"type":"area","color":"#e5e5e5"},"encoding":{"x":{"field":"t","type":"quantitative","scale":{"domain":[0,1],"nice":false},"axis":null},"y":{"field":"lo","type":"quantitative","scale":{"domain":[0,1],"reverse":true,"nice":false},"axis":null},"y2":{"field":"hi"}}},
{"width":325,"height":121,"layer":[{"data":{"name":"heat"},"transform":[{"filter":"datum.c==3"},{"fold":["50m","1200m","2300m","3400m"],"as":["s","z"]}],"mark":{"type":"rect","height":{"band":1.2}},"encoding":{"x":{"field":"s","type":"nominal","scale":{"domain":["50m","1200m","2300m","3400m"],"paddingInner":0,"paddingOuter":0,"round":false},"axis":null},"y":{"field":"r","type":"ordinal","scale":{"paddingInner":0,"paddingOuter":0,"round":false},"axis":null},"color":{"field":"z","type":"quantitative","scale":{"domain":[-2,-1,0,1,2],"range":["#1a4594","#8f9fcb","#fbfbfb","#de8f80","#a81e1e"]},"legend":null}}},{"data":{"values":[{}]},"mark":{"type":"rect","fill":null,"stroke":"#222222","strokeWidth":1},"encoding":{}}]},
{"width":16.7,"height":121,"data":{"values":[{"t":"n:144"}]},"encoding":{"x":{"datum":0.64,"type":"quantitative","scale":{"domain":[0,1],"nice":false},"axis":null}},"layer":[{"mark":{"type":"rect","color":"#1f9b7e"},"encoding":{"x":{"datum":0.28,"type":"quantitative"},"x2":{"datum":1}}},{"mark":{"type":"text","angle":270,"fontSize":5.5,"color":"#ffffff","opacity":0.85},"encoding":{"text":{"field":"t"}}}]},
{"width":251,"height":121,"layer":[{"encoding":{"x":{"field":"x","type":"quantitative","scale":{"domain":[0,1],"nice":false},"axis":null},"y":{"field":"y","type":"quantitative","scale":{"domain":[-5.708,5.708],"reverse":true,"nice":false,"zero":false},"axis":null}},"layer":[
{"data":{"values":[{"x":0,"y":-5.708,"y2":5.708},{"x":0.048,"y":-0.65,"y2":0.65},{"x":1,"y":-0.65,"y2":0.65}]},"mark":{"type":"area","color":"#f2f2f0"},"encoding":{"y2":{"field":"y2"}}},
{"data":{"values":[{"o":0,"x":0,"y":-5.708},{"o":1,"x":0.048,"y":-0.65},{"o":2,"x":1,"y":-0.65},{"o":3,"x":1,"y":0.65},{"o":4,"x":0.048,"y":0.65},{"o":5,"x":0,"y":5.708}]},"mark":{"type":"line","color":"#8f8f8f","strokeWidth":1},"encoding":{"order":{"field":"o","type":"quantitative"}}}]},
{"data":{"values":[{"y":0,"name":"Pyrimidine metabolism"}]},"mark":{"type":"text","align":"left","fontSize":10,"color":"#2749a8"},"encoding":{"x":{"datum":0.057,"type":"quantitative","axis":null},"y":{"field":"y","type":"quantitative","axis":null},"text":{"field":"name"}}}
]},

{"width":83,"height":105,"layer":[
{"data":{"values":[{}]},"mark":{"type":"rect","fill":"white","stroke":"#111111","strokeWidth":0.9},"encoding":{"x":{"datum":0,"type":"quantitative","scale":{"domain":[0,3],"nice":false,"zero":false,"padding":0},"axis":null},"x2":{"datum":3},"y":{"datum":-2,"type":"quantitative","scale":{"domain":[-2,2],"range":[76.35,28.65],"nice":false,"zero":false},"axis":{"title":"Cluster 6","labels":false,"ticks":false,"domain":false,"titleFontSize":10.5,"titlePadding":8,"titleColor":"#222222"}},"y2":{"datum":2}}},
{"data":{"values":[{}]},"mark":{"type":"rect","fill":"white","stroke":"#111111","strokeWidth":0.8},"encoding":{"x":{"datum":0.54,"type":"quantitative","axis":null},"x2":{"datum":1.85},"y":{"datum":0.69,"type":"quantitative"},"y2":{"datum":1.69}}},
{"data":{"values":[{"t":"Size: 126"}]},"mark":{"type":"text","fontSize":6.3,"fontStyle":"italic","color":"#333333"},"encoding":{"x":{"datum":1.19,"type":"quantitative","axis":null},"y":{"datum":1.19,"type":"quantitative"},"text":{"field":"t"}}},
{"data":{"name":"mini"},"transform":[{"filter":"datum.c==6"}],"encoding":{"x":{"field":"i","type":"quantitative","axis":null},"y":{"field":"m","type":"quantitative"}},"layer":[
{"mark":{"type":"rule","color":"#8a8a8a","strokeWidth":0.8,"clip":true},"encoding":{"y":{"field":"lo","type":"quantitative"},"y2":{"field":"hi"}}},
{"mark":{"type":"tick","orient":"horizontal","color":"#8a8a8a","size":9,"thickness":0.8,"clip":true},"encoding":{"y":{"field":"lo","type":"quantitative"}}},
{"mark":{"type":"tick","orient":"horizontal","color":"#8a8a8a","size":9,"thickness":0.8,"clip":true},"encoding":{"y":{"field":"hi","type":"quantitative"}}},
{"mark":{"type":"bar","size":8.7,"stroke":"#8a8a8a","strokeWidth":0.7,"clip":true},"encoding":{"y":{"field":"q1","type":"quantitative"},"y2":{"field":"q3"},"color":{"field":"s","type":"nominal","scale":{"domain":["50m","1200m","2300m","3400m"],"range":["#88ccbc","#f7f6b0","#bcb6d6","#f27a6b"]},"legend":null}}},
{"mark":{"type":"line","color":"#d42a2e","strokeWidth":2.4,"clip":true}}
]}]},
{"width":19,"height":105,"data":{"values":[{"t":0,"lo":0.273,"hi":0.727},{"t":0.66,"lo":0,"hi":1}]},"mark":{"type":"area","color":"#e5e5e5"},"encoding":{"x":{"field":"t","type":"quantitative","scale":{"domain":[0,1],"nice":false},"axis":null},"y":{"field":"lo","type":"quantitative","scale":{"domain":[0,1],"reverse":true,"nice":false},"axis":null},"y2":{"field":"hi"}}},
{"width":325,"height":105,"layer":[{"data":{"name":"heat"},"transform":[{"filter":"datum.c==6"},{"fold":["50m","1200m","2300m","3400m"],"as":["s","z"]}],"mark":{"type":"rect","height":{"band":1.2}},"encoding":{"x":{"field":"s","type":"nominal","scale":{"domain":["50m","1200m","2300m","3400m"],"paddingInner":0,"paddingOuter":0,"round":false},"axis":null},"y":{"field":"r","type":"ordinal","scale":{"paddingInner":0,"paddingOuter":0,"round":false},"axis":null},"color":{"field":"z","type":"quantitative","scale":{"domain":[-2,-1,0,1,2],"range":["#1a4594","#8f9fcb","#fbfbfb","#de8f80","#a81e1e"]},"legend":null}}},{"data":{"values":[{}]},"mark":{"type":"rect","fill":null,"stroke":"#222222","strokeWidth":1},"encoding":{}}]},
{"width":16.7,"height":105,"data":{"values":[{"t":"n:126"}]},"encoding":{"x":{"datum":0.64,"type":"quantitative","scale":{"domain":[0,1],"nice":false},"axis":null}},"layer":[{"mark":{"type":"rect","color":"#8289b0"},"encoding":{"x":{"datum":0.28,"type":"quantitative"},"x2":{"datum":1}}},{"mark":{"type":"text","angle":270,"fontSize":5.5,"color":"#ffffff","opacity":0.85},"encoding":{"text":{"field":"t"}}}]},
{"width":251,"height":105,"layer":[{"encoding":{"x":{"field":"x","type":"quantitative","scale":{"domain":[0,1],"nice":false},"axis":null},"y":{"field":"y","type":"quantitative","scale":{"domain":[-2.453,7.453],"reverse":true,"nice":false,"zero":false},"axis":null}},"layer":[
{"data":{"values":[{"x":0,"y":-2.453,"y2":7.453},{"x":0.048,"y":-0.65,"y2":5.65},{"x":1,"y":-0.65,"y2":5.65}]},"mark":{"type":"area","color":"#f2f2f0"},"encoding":{"y2":{"field":"y2"}}},
{"data":{"values":[{"o":0,"x":0,"y":-2.453},{"o":1,"x":0.048,"y":-0.65},{"o":2,"x":1,"y":-0.65},{"o":3,"x":1,"y":5.65},{"o":4,"x":0.048,"y":5.65},{"o":5,"x":0,"y":7.453}]},"mark":{"type":"line","color":"#8f8f8f","strokeWidth":1},"encoding":{"order":{"field":"o","type":"quantitative"}}}]},
{"data":{"values":[{"y":0,"name":"Fructose and mannose metabolism"},{"y":1,"name":"Glycerophospholipid metabolism"},{"y":2,"name":"Galactose metabolism"},{"y":3,"name":"Arachidonic acid metabolism"},{"y":4,"name":"Amino sugar and nucleotide sugar metabolism"},{"y":5,"name":"Starch and sucrose metabolism"}]},"mark":{"type":"text","align":"left","fontSize":10},"encoding":{"x":{"datum":0.057,"type":"quantitative","axis":null},"y":{"field":"y","type":"quantitative","axis":null},"text":{"field":"name"},"color":{"field":"name","type":"nominal","scale":{"domain":["Fructose and mannose metabolism","Glycerophospholipid metabolism","Galactose metabolism","Arachidonic acid metabolism","Amino sugar and nucleotide sugar metabolism","Starch and sucrose metabolism"],"range":["#f1ee8a","#4258b0","#f08a24","#c4e39a","#8ab8b0","#d0622b"]},"legend":null}}}
]},

{"width":83,"height":111.3,"layer":[
{"data":{"values":[{}]},"mark":{"type":"rect","fill":"white","stroke":"#111111","strokeWidth":0.9},"encoding":{"x":{"datum":0,"type":"quantitative","scale":{"domain":[0,3],"nice":false,"zero":false,"padding":0},"axis":null},"x2":{"datum":3},"y":{"datum":-2,"type":"quantitative","scale":{"domain":[-2,2],"range":[79.5,31.8],"nice":false,"zero":false},"axis":{"title":"Cluster 5","labels":false,"ticks":false,"domain":false,"titleFontSize":10.5,"titlePadding":8,"titleColor":"#222222"}},"y2":{"datum":2}}},
{"data":{"values":[{}]},"mark":{"type":"rect","fill":"white","stroke":"#111111","strokeWidth":0.8},"encoding":{"x":{"datum":0.54,"type":"quantitative","axis":null},"x2":{"datum":1.85},"y":{"datum":0.69,"type":"quantitative"},"y2":{"datum":1.69}}},
{"data":{"values":[{"t":"Size: 132"}]},"mark":{"type":"text","fontSize":6.3,"fontStyle":"italic","color":"#333333"},"encoding":{"x":{"datum":1.19,"type":"quantitative","axis":null},"y":{"datum":1.19,"type":"quantitative"},"text":{"field":"t"}}},
{"data":{"name":"mini"},"transform":[{"filter":"datum.c==5"}],"encoding":{"x":{"field":"i","type":"quantitative","axis":null},"y":{"field":"m","type":"quantitative"}},"layer":[
{"mark":{"type":"rule","color":"#8a8a8a","strokeWidth":0.8,"clip":true},"encoding":{"y":{"field":"lo","type":"quantitative"},"y2":{"field":"hi"}}},
{"mark":{"type":"tick","orient":"horizontal","color":"#8a8a8a","size":9,"thickness":0.8,"clip":true},"encoding":{"y":{"field":"lo","type":"quantitative"}}},
{"mark":{"type":"tick","orient":"horizontal","color":"#8a8a8a","size":9,"thickness":0.8,"clip":true},"encoding":{"y":{"field":"hi","type":"quantitative"}}},
{"mark":{"type":"bar","size":8.7,"stroke":"#8a8a8a","strokeWidth":0.7,"clip":true},"encoding":{"y":{"field":"q1","type":"quantitative"},"y2":{"field":"q3"},"color":{"field":"s","type":"nominal","scale":{"domain":["50m","1200m","2300m","3400m"],"range":["#88ccbc","#f7f6b0","#bcb6d6","#f27a6b"]},"legend":null}}},
{"mark":{"type":"line","color":"#d42a2e","strokeWidth":2.4,"clip":true}}
]}]},
{"width":19,"height":111.3,"data":{"values":[{"t":0,"lo":0.286,"hi":0.714},{"t":0.66,"lo":0,"hi":1}]},"mark":{"type":"area","color":"#e5e5e5"},"encoding":{"x":{"field":"t","type":"quantitative","scale":{"domain":[0,1],"nice":false},"axis":null},"y":{"field":"lo","type":"quantitative","scale":{"domain":[0,1],"reverse":true,"nice":false},"axis":null},"y2":{"field":"hi"}}},
{"width":325,"height":111.3,"layer":[{"data":{"name":"heat"},"transform":[{"filter":"datum.c==5"},{"fold":["50m","1200m","2300m","3400m"],"as":["s","z"]}],"mark":{"type":"rect","height":{"band":1.2}},"encoding":{"x":{"field":"s","type":"nominal","scale":{"domain":["50m","1200m","2300m","3400m"],"paddingInner":0,"paddingOuter":0,"round":false},"axis":null},"y":{"field":"r","type":"ordinal","scale":{"paddingInner":0,"paddingOuter":0,"round":false},"axis":null},"color":{"field":"z","type":"quantitative","scale":{"domain":[-2,-1,0,1,2],"range":["#1a4594","#8f9fcb","#fbfbfb","#de8f80","#a81e1e"]},"legend":null}}},{"data":{"values":[{}]},"mark":{"type":"rect","fill":null,"stroke":"#222222","strokeWidth":1},"encoding":{}}]},
{"width":16.7,"height":111.3,"data":{"values":[{"t":"n:132"}]},"encoding":{"x":{"datum":0.64,"type":"quantitative","scale":{"domain":[0,1],"nice":false},"axis":null}},"layer":[{"mark":{"type":"rect","color":"#ea9478"},"encoding":{"x":{"datum":0.28,"type":"quantitative"},"x2":{"datum":1}}},{"mark":{"type":"text","angle":270,"fontSize":5.5,"color":"#ffffff","opacity":0.85},"encoding":{"text":{"field":"t"}}}]},
{"width":251,"height":111.3,"layer":[{"encoding":{"x":{"field":"x","type":"quantitative","scale":{"domain":[0,1],"nice":false},"axis":null},"y":{"field":"y","type":"quantitative","scale":{"domain":[-4.25,6.25],"reverse":true,"nice":false,"zero":false},"axis":null}},"layer":[
{"data":{"values":[{"x":0,"y":-4.25,"y2":6.25},{"x":0.048,"y":-0.65,"y2":2.65},{"x":1,"y":-0.65,"y2":2.65}]},"mark":{"type":"area","color":"#f2f2f0"},"encoding":{"y2":{"field":"y2"}}},
{"data":{"values":[{"o":0,"x":0,"y":-4.25},{"o":1,"x":0.048,"y":-0.65},{"o":2,"x":1,"y":-0.65},{"o":3,"x":1,"y":2.65},{"o":4,"x":0.048,"y":2.65},{"o":5,"x":0,"y":6.25}]},"mark":{"type":"line","color":"#8f8f8f","strokeWidth":1},"encoding":{"order":{"field":"o","type":"quantitative"}}}]},
{"data":{"values":[{"y":0,"name":"Alanine, aspartate and glutamate metabolism"},{"y":1,"name":"Glycolysis / Gluconeogenesis"},{"y":2,"name":"D−Amino acid metabolism"}]},"mark":{"type":"text","align":"left","fontSize":10},"encoding":{"x":{"datum":0.057,"type":"quantitative","axis":null},"y":{"field":"y","type":"quantitative","axis":null},"text":{"field":"name"},"color":{"field":"name","type":"nominal","scale":{"domain":["Alanine, aspartate and glutamate metabolism","Glycolysis / Gluconeogenesis","D−Amino acid metabolism"],"range":["#1fb87a","#e8176a","#a8309c"]},"legend":null}}}
]},

{"width":83,"height":125.2,"layer":[
{"data":{"values":[{}]},"mark":{"type":"rect","fill":"white","stroke":"#111111","strokeWidth":0.9},"encoding":{"x":{"datum":0,"type":"quantitative","scale":{"domain":[0,3],"nice":false,"zero":false,"padding":0},"axis":null},"x2":{"datum":3},"y":{"datum":-2,"type":"quantitative","scale":{"domain":[-2,2],"range":[86.45,38.75],"nice":false,"zero":false},"axis":{"title":"Cluster 4","labels":false,"ticks":false,"domain":false,"titleFontSize":10.5,"titlePadding":8,"titleColor":"#222222"}},"y2":{"datum":2}}},
{"data":{"values":[{}]},"mark":{"type":"rect","fill":"white","stroke":"#111111","strokeWidth":0.8},"encoding":{"x":{"datum":0.54,"type":"quantitative","axis":null},"x2":{"datum":1.85},"y":{"datum":0.69,"type":"quantitative"},"y2":{"datum":1.69}}},
{"data":{"values":[{"t":"Size: 149"}]},"mark":{"type":"text","fontSize":6.3,"fontStyle":"italic","color":"#333333"},"encoding":{"x":{"datum":1.19,"type":"quantitative","axis":null},"y":{"datum":1.19,"type":"quantitative"},"text":{"field":"t"}}},
{"data":{"name":"mini"},"transform":[{"filter":"datum.c==4"}],"encoding":{"x":{"field":"i","type":"quantitative","axis":null},"y":{"field":"m","type":"quantitative"}},"layer":[
{"mark":{"type":"rule","color":"#8a8a8a","strokeWidth":0.8,"clip":true},"encoding":{"y":{"field":"lo","type":"quantitative"},"y2":{"field":"hi"}}},
{"mark":{"type":"tick","orient":"horizontal","color":"#8a8a8a","size":9,"thickness":0.8,"clip":true},"encoding":{"y":{"field":"lo","type":"quantitative"}}},
{"mark":{"type":"tick","orient":"horizontal","color":"#8a8a8a","size":9,"thickness":0.8,"clip":true},"encoding":{"y":{"field":"hi","type":"quantitative"}}},
{"mark":{"type":"bar","size":8.7,"stroke":"#8a8a8a","strokeWidth":0.7,"clip":true},"encoding":{"y":{"field":"q1","type":"quantitative"},"y2":{"field":"q3"},"color":{"field":"s","type":"nominal","scale":{"domain":["50m","1200m","2300m","3400m"],"range":["#88ccbc","#f7f6b0","#bcb6d6","#f27a6b"]},"legend":null}}},
{"mark":{"type":"line","color":"#d42a2e","strokeWidth":2.4,"clip":true}}
]}]},
{"width":19,"height":125.2,"data":{"values":[{"t":0,"lo":0.31,"hi":0.69},{"t":0.66,"lo":0,"hi":1}]},"mark":{"type":"area","color":"#e5e5e5"},"encoding":{"x":{"field":"t","type":"quantitative","scale":{"domain":[0,1],"nice":false},"axis":null},"y":{"field":"lo","type":"quantitative","scale":{"domain":[0,1],"reverse":true,"nice":false},"axis":null},"y2":{"field":"hi"}}},
{"width":325,"height":125.2,"layer":[{"data":{"name":"heat"},"transform":[{"filter":"datum.c==4"},{"fold":["50m","1200m","2300m","3400m"],"as":["s","z"]}],"mark":{"type":"rect","height":{"band":1.2}},"encoding":{"x":{"field":"s","type":"nominal","scale":{"domain":["50m","1200m","2300m","3400m"],"paddingInner":0,"paddingOuter":0,"round":false},"axis":null},"y":{"field":"r","type":"ordinal","scale":{"paddingInner":0,"paddingOuter":0,"round":false},"axis":null},"color":{"field":"z","type":"quantitative","scale":{"domain":[-2,-1,0,1,2],"range":["#1a4594","#8f9fcb","#fbfbfb","#de8f80","#a81e1e"]},"legend":null}}},{"data":{"values":[{}]},"mark":{"type":"rect","fill":null,"stroke":"#222222","strokeWidth":1},"encoding":{}}]},
{"width":16.7,"height":125.2,"data":{"values":[{"t":"n:149"}]},"encoding":{"x":{"datum":0.64,"type":"quantitative","scale":{"domain":[0,1],"nice":false},"axis":null}},"layer":[{"mark":{"type":"rect","color":"#3b5085"},"encoding":{"x":{"datum":0.28,"type":"quantitative"},"x2":{"datum":1}}},{"mark":{"type":"text","angle":270,"fontSize":5.5,"color":"#ffffff","opacity":0.85},"encoding":{"text":{"field":"t"}}}]},
{"width":251,"height":125.2,"layer":[{"encoding":{"x":{"field":"x","type":"quantitative","scale":{"domain":[0,1],"nice":false},"axis":null},"y":{"field":"y","type":"quantitative","scale":{"domain":[-1.406,10.406],"reverse":true,"nice":false,"zero":false},"axis":null}},"layer":[
{"data":{"values":[{"x":0,"y":-1.406,"y2":10.406},{"x":0.048,"y":-0.65,"y2":9.65},{"x":1,"y":-0.65,"y2":9.65}]},"mark":{"type":"area","color":"#f2f2f0"},"encoding":{"y2":{"field":"y2"}}},
{"data":{"values":[{"o":0,"x":0,"y":-1.406},{"o":1,"x":0.048,"y":-0.65},{"o":2,"x":1,"y":-0.65},{"o":3,"x":1,"y":9.65},{"o":4,"x":0.048,"y":9.65},{"o":5,"x":0,"y":10.406}]},"mark":{"type":"line","color":"#8f8f8f","strokeWidth":1},"encoding":{"order":{"field":"o","type":"quantitative"}}}]},
{"data":{"values":[{"y":0,"name":"Glyoxylate and dicarboxylate metabolism"},{"y":1,"name":"Valine, leucine and isoleucine biosynthesis"},{"y":2,"name":"Glycine, serine and threonine metabolism"},{"y":3,"name":"Phenylalanine metabolism"},{"y":4,"name":"Pentose phosphate pathway"},{"y":5,"name":"Pyruvate metabolism"},{"y":6,"name":"Phenylalanine, tyrosine and tryptophan biosynthesis"},{"y":7,"name":"Tyrosine metabolism"},{"y":8,"name":"Nitrogen metabolism"},{"y":9,"name":"Citrate cycle (TCA cycle)"}]},"mark":{"type":"text","align":"left","fontSize":10},"encoding":{"x":{"datum":0.057,"type":"quantitative","axis":null},"y":{"field":"y","type":"quantitative","axis":null},"text":{"field":"name"},"color":{"field":"name","type":"nominal","scale":{"domain":["Glyoxylate and dicarboxylate metabolism","Valine, leucine and isoleucine biosynthesis","Glycine, serine and threonine metabolism","Phenylalanine metabolism","Pentose phosphate pathway","Pyruvate metabolism","Phenylalanine, tyrosine and tryptophan biosynthesis","Tyrosine metabolism","Nitrogen metabolism","Citrate cycle (TCA cycle)"],"range":["#b4429e","#3a2a96","#e8b6de","#c92a94","#bcc2e6","#2f86c8","#27b2d8","#3e7a28","#d4143a","#d85aa8"]},"legend":null}}}
]}
]}
]}
